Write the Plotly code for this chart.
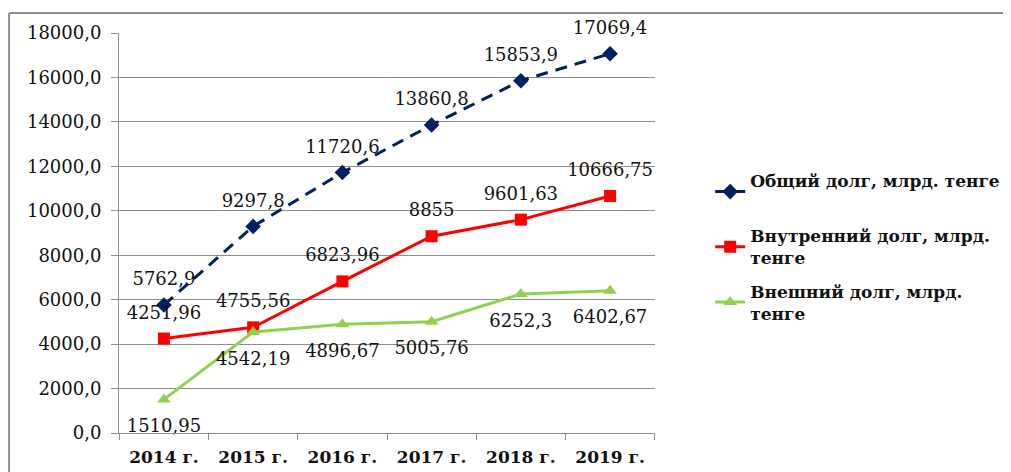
import plotly.graph_objects as go

years = ["2014 г.", "2015 г.", "2016 г.", "2017 г.", "2018 г.", "2019 г."]
total_debt = [5762.9, 9297.8, 11720.6, 13860.8, 15853.9, 17069.4]
total_labels = ["5762,9", "9297,8", "11720,6", "13860,8", "15853,9", "17069,4"]
internal_debt = [4251.96, 4755.56, 6823.96, 8855, 9601.63, 10666.75]
internal_labels = ["4251,96", "4755,56", "6823,96", "8855", "9601,63", "10666,75"]
external_debt = [1510.95, 4542.19, 4896.67, 5005.76, 6252.3, 6402.67]
external_labels = ["1510,95", "4542,19", "4896,67", "5005,76", "6252,3", "6402,67"]
y_ticks = list(range(0, 18001, 2000))
y_tick_text = [f"{v},0" for v in y_ticks]

SERIF = "DejaVu Serif"
label_font = dict(family=SERIF, size=18, color="#111111")

series = [
    dict(name="Общий долг, млрд. тенге<br> ", y=total_debt, labels=total_labels,
         color="#002060", symbol="diamond", dash="12px,8px", pos="top center", pad=23),
    dict(name="Внутренний долг, млрд.<br>тенге", y=internal_debt, labels=internal_labels,
         color="#FF0000", symbol="square", dash="solid", pos="top center", pad=23),
    dict(name="Внешний долг, млрд.<br>тенге", y=external_debt, labels=external_labels,
         color="#92D050", symbol="triangle-up", dash="solid", pos="bottom center", pad=29),
]

fig = go.Figure()
for i, s in enumerate(series):
    fig.add_trace(go.Scatter(
        x=years, y=s["y"], mode="lines+markers", name=s["name"],
        line=dict(color=s["color"], width=3, dash=s["dash"]),
        marker=dict(symbol=s["symbol"], size=12, color=s["color"]),
        legendgroup=f"g{i}", cliponaxis=False,
    ))
for i, s in enumerate(series):
    # data labels: transparent spacer markers set the label distance
    fig.add_trace(go.Scatter(
        x=years, y=s["y"], mode="markers+text", showlegend=False,
        marker=dict(size=s["pad"], color="rgba(0,0,0,0)"),
        text=s["labels"], textposition=s["pos"], textfont=label_font,
        hoverinfo="skip", cliponaxis=False, legendgroup=f"g{i}",
    ))

fig.update_layout(
    width=1011, height=472,
    margin=dict(l=111, r=364, t=25, b=47),
    paper_bgcolor="white", plot_bgcolor="white",
    font=dict(family=SERIF, color="#111111"),
    showlegend=True,
    legend=dict(
        x=1.103, y=0.675, xanchor="left", yanchor="top",
        font=dict(family=SERIF, size=17, color="#111111", weight="bold"),
        tracegroupgap=8, bgcolor="rgba(0,0,0,0)",
    ),
    shapes=[
        dict(type="line", xref="paper", yref="paper", x0=-0.205, x1=1.67, y0=1.05, y1=1.05,
             line=dict(color="#8c8c8c", width=2)),
        dict(type="line", xref="paper", yref="paper", x0=-0.205, x1=-0.205, y0=1.05, y1=-0.12,
             line=dict(color="#8c8c8c", width=2)),
    ],
)
fig.update_xaxes(
    type="category", showgrid=False, showline=True, linecolor="#8c8c8c", linewidth=1,
    ticks="outside", tickson="boundaries", ticklen=6, tickcolor="#8c8c8c",
    ticklabelstandoff=9,
    tickfont=dict(family=SERIF, size=17, color="#111111", weight="bold"),
)
fig.update_yaxes(
    range=[0, 18000], tickvals=y_ticks, ticktext=y_tick_text,
    showgrid=True, gridcolor="#8c8c8c", gridwidth=1,
    showline=True, linecolor="#8c8c8c", linewidth=1,
    ticks="outside", ticklen=7, tickcolor="#8c8c8c",
    ticklabelstandoff=6,
    tickfont=dict(family=SERIF, size=18, color="#111111"),
    zeroline=False,
)

fig.write_html("out.html")
